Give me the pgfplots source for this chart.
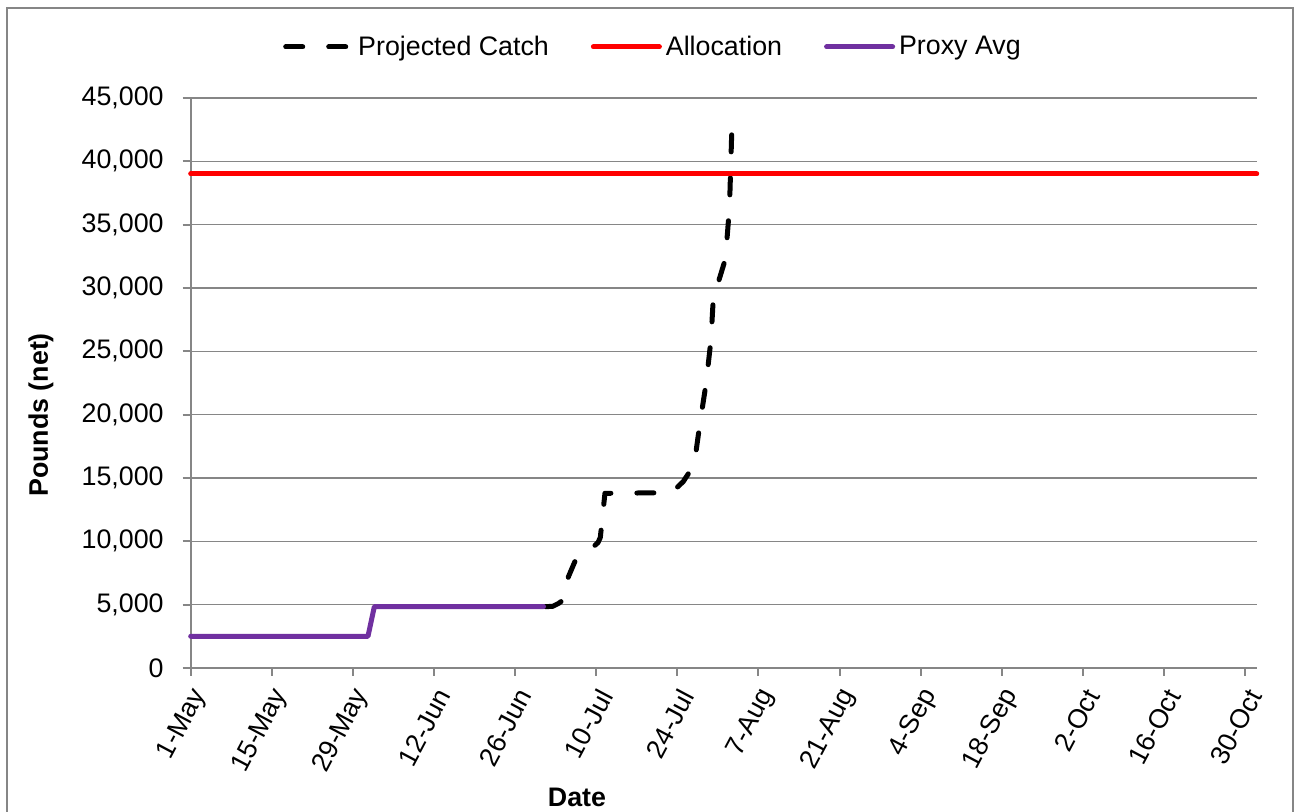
\documentclass[border=0pt]{standalone}
\usepackage{fontspec}
\setmainfont{Liberation Sans}
\usepackage{pgfplots}
\pgfplotsset{compat=1.18}
\definecolor{gridgray}{RGB}{134,134,134}
\definecolor{proxypurple}{RGB}{112,48,160}
\begin{document}
\begin{tikzpicture}
\begin{axis}[
    scale only axis,
    width=533pt, height=285pt,
    font=\fontsize{13.4}{15.5}\selectfont,
    xmin=0, xmax=184, ymin=0, ymax=45000,
    axis x line*=bottom, axis y line*=left,
    axis line style={-, gridgray, line width=1pt},
    xtick={0,14,...,182},
    xticklabels={1-May,15-May,29-May,12-Jun,26-Jun,10-Jul,24-Jul,7-Aug,21-Aug,4-Sep,18-Sep,2-Oct,16-Oct,30-Oct},
    xticklabel style={rotate=62, anchor=east, xshift=-1pt, yshift=-7.8pt},
    ytick={0,5000,...,45000},
    yticklabel style={xshift=-6pt},
    /pgf/number format/.cd, 1000 sep={,}, assume math mode=true, /pgfplots/.cd,
    scaled y ticks=false,
    tick align=outside, major tick length=4pt,
    tick style={gridgray, line width=1pt},
    ymajorgrids, grid style={gridgray, line width=0.8pt},
    xlabel={\textbf{Date}},
    xlabel style={at={(rel axis cs:0.3624,-0.2263)}, anchor=center},
    ylabel={\textbf{Pounds (net)}},
    ylabel style={at={(rel axis cs:-0.1404,0.4439)}, anchor=center},
    clip=false,
    legend columns=3,
    legend style={draw=none, fill=none, at={(rel axis cs:0.4346,1.0895)}, anchor=center,
        /tikz/every even column/.append style={column sep=19pt}},
    legend image code/.code={\draw[#1] (0pt,0pt) -- (33pt,0pt);},
]
\addplot[black, line width=2.5pt, line cap=round, line join=round, dash pattern=on 8.5pt off 13pt] coordinates {
(61.2,4840) (62.5,4870) (63.5,5100) (64.3,5370) (65.2,7210) (66.3,8390)
(68.0,9100) (69.2,9450) (70.3,9900) (70.7,10300) (71.5,13790) (83.0,13840)
(85.0,14710) (86.9,16030) (87.9,19320) (88.96,22470) (89.8,25900) (90.2,29180)
(91.1,30500) (92.3,32300) (93.0,36400) (93.4,42500)
};
\addlegendentry{Projected Catch}
\addplot[red, line width=2.5pt, line cap=round] coordinates {
(0,39000) (184,39000)
};
\addlegendentry{Allocation}
\addplot[proxypurple, line width=2.5pt, line cap=round, line join=round] coordinates {
(0,2500) (30.6,2500) (31.7,4850) (60.9,4850)
};
\addlegendentry{Proxy Avg}
\coordinate (bbsw) at (rel axis cs:-0.1789,-0.2526);
\coordinate (bbne) at (rel axis cs:1.0359,1.1719);
\coordinate (frsw) at (rel axis cs:-0.1723,-0.2600);
\coordinate (frne) at (rel axis cs:1.0341,1.1579);
\end{axis}
\pgfresetboundingbox
\useasboundingbox (bbsw) rectangle (bbne);
\draw[gridgray, line width=1pt] (frsw) rectangle (frne);
\end{tikzpicture}
\end{document}
